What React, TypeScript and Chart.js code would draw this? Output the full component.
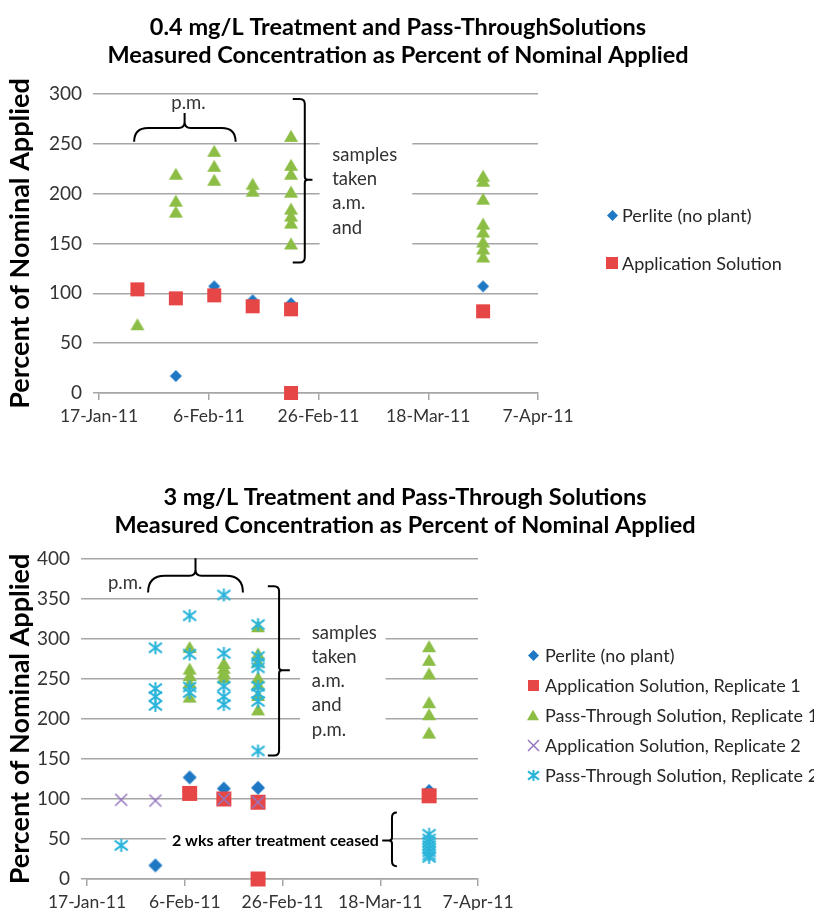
import React, { useEffect, useRef } from "react";
import { Chart, registerables } from "chart.js";

Chart.register(...registerables);

const FONT = "Lato, 'Noto Sans', sans-serif";
const MONTHS = ["Jan", "Feb", "Mar", "Apr", "May", "Jun", "Jul", "Aug", "Sep", "Oct", "Nov", "Dec"];

// ---------- shared date axis ----------
const axisStart = "2011-01-17";
const axisEnd = "2011-04-07";
const axisStepDays = 20;

const DAY = 86400000;
const startMs = Date.parse(axisStart + "T00:00:00Z");
const dayOf = (s: string) => Math.round((Date.parse(s + "T00:00:00Z") - startMs) / DAY);
const fmtDay = (n: number) => {
  const d = new Date(startMs + n * DAY);
  return `${d.getUTCDate()}-${MONTHS[d.getUTCMonth()]}-${String(d.getUTCFullYear()).slice(-2)}`;
};
const rep = (d: string, n: number) => Array.from({ length: n }, () => d);

// ---------- top chart: 0.4 mg/L ----------
const topTitle = [
  "0.4 mg/L Treatment and Pass-ThroughSolutions",
  "Measured Concentration as Percent of Nominal Applied",
];
const topYMax = 300;
const topYStep = 50;

const topPerliteDates = ["2011-01-31", "2011-02-07", "2011-02-14", "2011-02-21", "2011-03-28"];
const topPerliteValues = [17, 107, 93, 90, 107];

const topAppDates = ["2011-01-24", "2011-01-31", "2011-02-07", "2011-02-14", "2011-02-21", "2011-02-21", "2011-03-28"];
const topAppValues = [104, 95, 98, 87, 84, 0, 82];

const topPassDates = [
  ...rep("2011-01-24", 1),
  ...rep("2011-01-31", 3),
  ...rep("2011-02-07", 3),
  ...rep("2011-02-14", 2),
  ...rep("2011-02-21", 8),
  ...rep("2011-03-28", 8),
];
const topPassValues = [
  69,
  220, 193, 182,
  243, 228, 214,
  210, 203,
  258, 229, 220, 202, 185, 178, 171, 150,
  218, 213, 195, 170, 162, 152, 145, 137,
];

// ---------- bottom chart: 3 mg/L ----------
const botTitle = [
  "3 mg/L Treatment and Pass-Through Solutions",
  "Measured Concentration as Percent of Nominal Applied",
];
const botYMax = 400;
const botYStep = 50;

const botPerliteDates = ["2011-01-31", "2011-02-07", "2011-02-14", "2011-02-21", "2011-03-28"];
const botPerliteValues = [17, 127, 113, 114, 110];

const botApp1Dates = ["2011-02-07", "2011-02-14", "2011-02-21", "2011-02-21", "2011-03-28"];
const botApp1Values = [107, 100, 96, 0, 104];

const botPass1Dates = [
  ...rep("2011-02-07", 5),
  ...rep("2011-02-14", 4),
  ...rep("2011-02-21", 7),
  ...rep("2011-03-28", 6),
];
const botPass1Values = [
  290, 263, 255, 246, 228,
  270, 264, 258, 252,
  316, 282, 272, 252, 244, 230, 212,
  291, 274, 257, 221, 206, 183,
];

const botApp2Dates = ["2011-01-24", "2011-01-31", "2011-02-14", "2011-02-21"];
const botApp2Values = [99, 98, 100, 96];

const botPass2Dates = [
  ...rep("2011-01-24", 1),
  ...rep("2011-01-31", 4),
  ...rep("2011-02-07", 4),
  ...rep("2011-02-14", 5),
  ...rep("2011-02-21", 8),
  ...rep("2011-03-28", 8),
];
const botPass2Values = [
  42,
  289, 238, 228, 217,
  329, 281, 240, 233,
  355, 282, 241, 228, 218,
  318, 278, 270, 264, 241, 232, 222, 160,
  56, 50, 46, 42, 38, 34, 30, 27,
];

// ---------- styling ----------
const BLUE = "#1f78c4";
const RED = "#e64646";
const GREEN = "#8cbd45";
const PURPLE = "#9677c0";
const CYAN = "#2ab4da";
const GRID = "#a6a6a6";
const TICK_COLOR = "#333333";

type Shape = "diamond" | "square" | "triangle" | "x" | "star";

function makeMarker(shape: Shape, color: string, size: number): HTMLCanvasElement {
  const dim = Math.ceil(size + 4);
  const c = document.createElement("canvas");
  c.width = dim;
  c.height = dim;
  const ctx = c.getContext("2d")!;
  const cx = dim / 2;
  const cy = dim / 2;
  const h = size / 2;
  ctx.fillStyle = color;
  ctx.strokeStyle = color;
  ctx.lineCap = "butt";
  ctx.beginPath();
  if (shape === "diamond") {
    ctx.moveTo(cx, cy - h);
    ctx.lineTo(cx + h, cy);
    ctx.lineTo(cx, cy + h);
    ctx.lineTo(cx - h, cy);
    ctx.closePath();
    ctx.fill();
  } else if (shape === "square") {
    ctx.fillRect(cx - h, cy - h, size, size);
  } else if (shape === "triangle") {
    const th = size * 0.87;
    ctx.moveTo(cx, cy - th / 2);
    ctx.lineTo(cx + h, cy + th / 2);
    ctx.lineTo(cx - h, cy + th / 2);
    ctx.closePath();
    ctx.fill();
  } else if (shape === "x") {
    ctx.lineWidth = 1.5;
    ctx.moveTo(cx - h, cy - h);
    ctx.lineTo(cx + h, cy + h);
    ctx.moveTo(cx + h, cy - h);
    ctx.lineTo(cx - h, cy + h);
    ctx.stroke();
  } else {
    ctx.lineWidth = 2;
    ctx.moveTo(cx - h, cy - h * 0.75);
    ctx.lineTo(cx + h, cy + h * 0.75);
    ctx.moveTo(cx + h, cy - h * 0.75);
    ctx.lineTo(cx - h, cy + h * 0.75);
    ctx.moveTo(cx, cy - h);
    ctx.lineTo(cx, cy + h);
    ctx.stroke();
  }
  return c;
}

type Series = {
  label: string;
  dates: string[];
  values: number[];
  shape: Shape;
  color: string;
  size: number;
  legendSize: number;
  inLegend: boolean;
  order: number;
};

type Panel = {
  width: number;
  height: number;
  padTop: number;
  padRight: number;
  yAxisWidth: number;
  xAxisHeight: number;
  yMax: number;
  yStep: number;
  yTickPad: number;
  title: string[];
  titleX: number;
  titleY: number[];
  series: Series[];
  legendMarkerX: number;
  legendTextX: number;
  legendY0: number;
  legendGap: number;
  hBrace: { x1: number; x2: number; xMid: number; yEnd: number; yBar: number; yTip: number };
  pm: { x: number; y: number };
  vBrace: { xEnd: number; xBar: number; xTip: number; yTop: number; yMid: number; yBot: number };
  notes: { x: number; y: number; lines: string[]; gap: number };
  noteBox: { x1: number; x2: number; y1: number; y2: number };
  ceased?: {
    text: string;
    xRight: number;
    y: number;
    brace: { xEnd: number; xBar: number; xTip: number; yTop: number; yMid: number; yBot: number };
  };
};

const topPanel: Panel = {
  width: 814,
  height: 455,
  padTop: 94,
  padRight: 276,
  yAxisWidth: 99,
  xAxisHeight: 62,
  yMax: topYMax,
  yStep: topYStep,
  yTickPad: 11,
  title: topTitle,
  titleX: 398,
  titleY: [27, 55],
  series: [
    { label: "Perlite (no plant)", dates: topPerliteDates, values: topPerliteValues, shape: "diamond", color: BLUE, size: 12, legendSize: 11, inLegend: true, order: 3 },
    { label: "Application Solution", dates: topAppDates, values: topAppValues, shape: "square", color: RED, size: 14, legendSize: 12, inLegend: true, order: 1 },
    { label: "Pass-Through Solution", dates: topPassDates, values: topPassValues, shape: "triangle", color: GREEN, size: 14, legendSize: 12, inLegend: false, order: 2 },
  ],
  legendMarkerX: 612,
  legendTextX: 622,
  legendY0: 215,
  legendGap: 48,
  hBrace: { x1: 6.4, x2: 24.9, xMid: 15.6, yEnd: 252, yBar: 266, yTip: 281 },
  pm: { x: 16.3, y: 291 },
  vBrace: { xEnd: 35.3, xBar: 37.5, xTip: 38.9, yTop: 295, yMid: 214, yBot: 131 },
  notes: { x: 42.5, y: 239, lines: ["samples", "taken", "a.m.", "and"], gap: 24.3 },
  noteBox: { x1: 40.2, x2: 57.1, y1: 145, y2: 256 },
};

const botPanel: Panel = {
  width: 814,
  height: 455,
  padTop: 104,
  padRight: 336,
  yAxisWidth: 87,
  xAxisHeight: 31,
  yMax: botYMax,
  yStep: botYStep,
  yTickPad: 11,
  title: botTitle,
  titleX: 405,
  titleY: [42, 70],
  series: [
    { label: "Perlite (no plant)", dates: botPerliteDates, values: botPerliteValues, shape: "diamond", color: BLUE, size: 14, legendSize: 11, inLegend: true, order: 5 },
    { label: "Application Solution, Replicate 1", dates: botApp1Dates, values: botApp1Values, shape: "square", color: RED, size: 15, legendSize: 11, inLegend: true, order: 4 },
    { label: "Pass-Through Solution, Replicate 1", dates: botPass1Dates, values: botPass1Values, shape: "triangle", color: GREEN, size: 14, legendSize: 12, inLegend: true, order: 3 },
    { label: "Application Solution, Replicate 2", dates: botApp2Dates, values: botApp2Values, shape: "x", color: PURPLE, size: 12, legendSize: 11, inLegend: true, order: 2 },
    { label: "Pass-Through Solution, Replicate 2", dates: botPass2Dates, values: botPass2Values, shape: "star", color: CYAN, size: 13, legendSize: 11, inLegend: true, order: 1 },
  ],
  legendMarkerX: 533,
  legendTextX: 545,
  legendY0: 200,
  legendGap: 30,
  hBrace: { x1: 12.5, x2: 31.9, xMid: 22.2, yEnd: 358, yBar: 379, yTip: 401 },
  pm: { x: 7.8, y: 370 },
  vBrace: { xEnd: 37, xBar: 39.3, xTip: 41.5, yTop: 366, yMid: 261, yBot: 154.5 },
  notes: { x: 46, y: 308, lines: ["samples", "taken", "a.m.", "and", "p.m."], gap: 24.3 },
  noteBox: { x1: 43.6, x2: 61.1, y1: 172, y2: 328 },
  ceased: {
    text: "2 wks after treatment ceased",
    xRight: 59.7,
    y: 48,
    brace: { xEnd: 63.4, xBar: 62.4, xTip: 60.4, yTop: 83, yMid: 48, yBot: 16 },
  },
};

function makeDecor(p: Panel, legend: { label: string; marker: HTMLCanvasElement }[]) {
  const TEXT_FONT = `18.5px ${FONT}`;
  const CEASED_FONT = `bold 16px ${FONT}`;
  return {
    id: "decor",
    beforeDatasetsDraw(chart: any) {
      const { ctx } = chart;
      const xs = chart.scales.x;
      const ys = chart.scales.y;
      ctx.save();
      ctx.fillStyle = "#ffffff";
      const b = p.noteBox;
      const bx1 = xs.getPixelForValue(b.x1);
      const bx2 = xs.getPixelForValue(b.x2);
      const by1 = ys.getPixelForValue(b.y2);
      const by2 = ys.getPixelForValue(b.y1);
      ctx.fillRect(bx1, by1, bx2 - bx1, by2 - by1);
      if (p.ceased) {
        ctx.font = CEASED_FONT;
        const w = ctx.measureText(p.ceased.text).width;
        const xr = xs.getPixelForValue(p.ceased.xRight);
        const xb = xs.getPixelForValue(p.ceased.brace.xBar);
        const y = ys.getPixelForValue(p.ceased.y);
        ctx.fillRect(xr - w - 6, y - 9, xb - (xr - w - 6), 18);
      }
      ctx.restore();
    },
    afterDraw(chart: any) {
      const { ctx } = chart;
      const xs = chart.scales.x;
      const ys = chart.scales.y;
      const X = (v: number) => xs.getPixelForValue(v);
      const Y = (v: number) => ys.getPixelForValue(v);
      ctx.save();

      // titles
      ctx.fillStyle = "#000";
      ctx.textAlign = "center";
      ctx.textBaseline = "middle";
      ctx.font = `bold 23.5px ${FONT}`;
      p.title.forEach((t, i) => ctx.fillText(t, p.titleX, p.titleY[i]));

      // horizontal brace (p.m.)
      ctx.strokeStyle = "#000";
      ctx.lineWidth = 2;
      const hb = p.hBrace;
      {
        const x1 = X(hb.x1), x2 = X(hb.x2), xm = X(hb.xMid);
        const ye = Y(hb.yEnd), yb = Y(hb.yBar), yt = Y(hb.yTip);
        const r = Math.abs(ye - yb);
        const r2 = Math.min(Math.abs(yb - yt), 6);
        ctx.beginPath();
        ctx.moveTo(x1, ye);
        ctx.quadraticCurveTo(x1, yb, x1 + r, yb);
        ctx.lineTo(xm - r2, yb);
        ctx.quadraticCurveTo(xm, yb, xm, yb - r2);
        ctx.lineTo(xm, yt);
        ctx.moveTo(xm, yb - r2);
        ctx.quadraticCurveTo(xm, yb, xm + r2, yb);
        ctx.lineTo(x2 - r, yb);
        ctx.quadraticCurveTo(x2, yb, x2, ye);
        ctx.stroke();
      }

      // vertical bracket (samples taken ...)
      const drawVBrace = (vb: { xEnd: number; xBar: number; xTip: number; yTop: number; yMid: number; yBot: number }) => {
        const xe = X(vb.xEnd), xb = X(vb.xBar), xt = X(vb.xTip);
        const yt = Y(vb.yTop), ym = Y(vb.yMid), ybt = Y(vb.yBot);
        const dir = Math.sign(xb - xe) || 1;
        const r = Math.min(Math.abs(xb - xe), 5);
        const r2 = 3;
        ctx.beginPath();
        ctx.moveTo(xe, yt);
        ctx.lineTo(xb - dir * r, yt);
        ctx.quadraticCurveTo(xb, yt, xb, yt + r);
        ctx.lineTo(xb, ym - r2);
        ctx.quadraticCurveTo(xb, ym, xb + dir * r2, ym);
        ctx.lineTo(xt, ym);
        ctx.moveTo(xb + dir * r2, ym);
        ctx.quadraticCurveTo(xb, ym, xb, ym + r2);
        ctx.lineTo(xb, ybt - r);
        ctx.quadraticCurveTo(xb, ybt, xb - dir * r, ybt);
        ctx.lineTo(xe, ybt);
        ctx.stroke();
      };
      drawVBrace(p.vBrace);

      // text annotations
      ctx.fillStyle = "#333";
      ctx.font = TEXT_FONT;
      ctx.textAlign = "center";
      ctx.fillText("p.m.", X(p.pm.x), Y(p.pm.y));
      ctx.textAlign = "left";
      const ny = Y(p.notes.y);
      p.notes.lines.forEach((l, i) => ctx.fillText(l, X(p.notes.x), ny + i * p.notes.gap));

      if (p.ceased) {
        ctx.fillStyle = "#000";
        ctx.font = CEASED_FONT;
        ctx.textAlign = "right";
        ctx.fillText(p.ceased.text, X(p.ceased.xRight), Y(p.ceased.y));
        drawVBrace(p.ceased.brace);
      }

      // legend
      ctx.font = `18px ${FONT}`;
      ctx.fillStyle = "#262626";
      ctx.textAlign = "left";
      legend.forEach((item, i) => {
        const y = p.legendY0 + i * p.legendGap;
        const m = item.marker;
        ctx.drawImage(m, Math.round(p.legendMarkerX - m.width / 2), Math.round(y - m.height / 2));
        ctx.fillText(item.label, p.legendTextX, y + 1);
      });
      ctx.restore();
    },
  };
}

function ScatterPanel({ panel }: { panel: Panel }) {
  const ref = useRef<HTMLCanvasElement>(null);
  useEffect(() => {
    const canvas = ref.current;
    if (!canvas) return;
    const datasets = panel.series.map((s) => ({
      label: s.label,
      data: s.dates.map((d, i) => ({ x: dayOf(d), y: s.values[i] })),
      pointStyle: makeMarker(s.shape, s.color, s.size) as any,
      pointRadius: 6,
      showLine: false,
      clip: false as any,
      order: s.order,
      backgroundColor: s.color,
      borderColor: s.color,
    }));
    const legend = panel.series
      .filter((s) => s.inLegend)
      .map((s) => ({ label: s.label, marker: makeMarker(s.shape, s.color, s.legendSize) }));

    const chart = new Chart(canvas, {
      type: "scatter",
      data: { datasets },
      options: {
        animation: false,
        responsive: false,
        devicePixelRatio: 1,
        events: [],
        layout: { padding: { top: panel.padTop, right: panel.padRight, left: 0, bottom: 0 } },
        plugins: {
          legend: { display: false },
          title: { display: false },
          tooltip: { enabled: false },
        },
        scales: {
          x: {
            type: "linear",
            min: dayOf(axisStart),
            max: dayOf(axisEnd),
            afterFit: (s: any) => {
              s.height = panel.xAxisHeight;
            },
            afterBuildTicks: (s: any) => {
              const t = [];
              for (let v = dayOf(axisStart); v <= dayOf(axisEnd); v += axisStepDays) t.push({ value: v });
              s.ticks = t;
            },
            ticks: {
              callback: (v: any) => fmtDay(Number(v)),
              font: { family: FONT, size: 17.5 },
              color: TICK_COLOR,
              padding: 6,
              maxRotation: 0,
              autoSkip: false,
            },
            grid: {
              drawOnChartArea: false,
              drawTicks: true,
              tickLength: 7,
              color: GRID,
              lineWidth: 1.5,
            },
            border: { display: true, color: GRID, width: 1.5 },
          },
          y: {
            min: 0,
            max: panel.yMax,
            afterFit: (s: any) => {
              s.width = panel.yAxisWidth;
            },
            ticks: {
              stepSize: panel.yStep,
              font: { family: FONT, size: 19 },
              color: TICK_COLOR,
              padding: panel.yTickPad,
            },
            grid: {
              color: GRID,
              lineWidth: 1.5,
              drawTicks: true,
              tickLength: 6,
            },
            border: { display: false },
            title: {
              display: true,
              text: "Percent of Nominal Applied",
              font: { family: FONT, size: 27, weight: "bold", lineHeight: 1 },
              color: "#000",
              padding: { top: 7, bottom: 0 },
            },
          },
        },
      } as any,
      plugins: [makeDecor(panel, legend) as any],
    });
    return () => chart.destroy();
  }, [panel]);
  return (
    <canvas
      ref={ref}
      width={panel.width}
      height={panel.height}
      style={{ display: "block", width: panel.width, height: panel.height }}
    />
  );
}

export default function App() {
  return (
    <div style={{ position: "absolute", left: 0, top: 0, width: 814, height: 910, background: "#fff" }}>
      <ScatterPanel panel={topPanel} />
      <ScatterPanel panel={botPanel} />
    </div>
  );
}
